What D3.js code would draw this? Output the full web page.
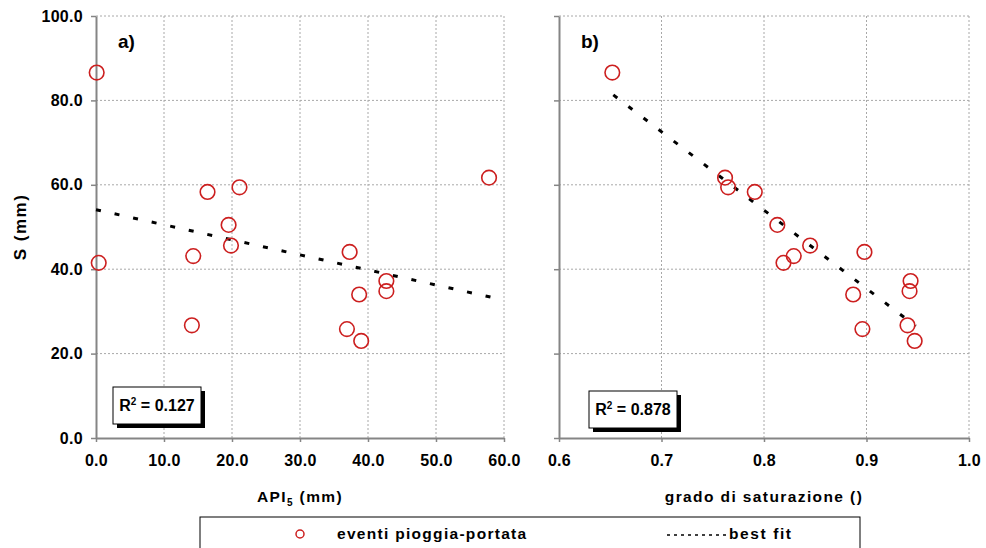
<!doctype html>
<html>
<head>
<script src="https://d3js.org/d3.v7.min.js"></script>
<style>
body { margin: 0; background: #fff; }
text { font-family: Arial, "Liberation Sans", sans-serif; font-weight: bold; fill: #000; }
</style>
</head>
<body>
<script type="text/javascript">
var width = 986;
var height = 548;

// S (mm) per evento, with the two predictors
var S     = [86.6, 61.7, 59.4, 58.3, 50.5, 45.6, 44.1, 43.1, 41.5, 37.2, 34.8, 34.0, 26.7, 25.8, 23.0];
var api5  = [0.1, 57.8, 21.1, 16.4, 19.5, 19.85, 37.3, 14.3, 0.4, 42.7, 42.7, 38.7, 14.1, 36.9, 39.0];
var sat   = [0.652, 0.762, 0.765, 0.791, 0.813, 0.845, 0.898, 0.829, 0.819, 0.943, 0.942, 0.887, 0.940, 0.896, 0.947];

// best fit end points
var fitA = [[0, 54.1], [58.3, 33.3]];
var fitB = [[0.653, 81.3], [0.948, 26.5]];

var yTicks = [0, 20, 40, 60, 80, 100];
var xTicksA = [0, 10, 20, 30, 40, 50, 60];
var xTicksB = [0.6, 0.7, 0.8, 0.9, 1.0];

var svg = d3.select("body").append("svg")
    .attr("width", width)
    .attr("height", height);

var y = d3.scaleLinear().domain([0, 100]).range([438, 16]);
var xA = d3.scaleLinear().domain([0, 60]).range([96, 504]);
var xB = d3.scaleLinear().domain([0.6, 1.0]).range([559, 969]);

function panel(x, xTicks, xs, fit, label, title, r2, showY) {
  var g = svg.append("g");

  // grid
  g.selectAll(".gx").data(xTicks.slice(1)).enter().append("line")
    .attr("x1", function (d) { return x(d); }).attr("x2", function (d) { return x(d); })
    .attr("y1", y(0)).attr("y2", y(100))
    .attr("stroke", "#a8a8a8").attr("stroke-width", 1).attr("stroke-dasharray", "2,2");
  g.selectAll(".gy").data(yTicks.slice(1)).enter().append("line")
    .attr("x1", x.range()[0]).attr("x2", x.range()[1])
    .attr("y1", function (d) { return y(d); }).attr("y2", function (d) { return y(d); })
    .attr("stroke", "#a8a8a8").attr("stroke-width", 1).attr("stroke-dasharray", "2,2");

  // axes
  var ax = g.append("g").attr("transform", "translate(0," + y(0) + ")")
    .call(d3.axisBottom(x).tickValues(xTicks).tickFormat(d3.format(".1f"))
      .tickSize(4).tickSizeOuter(0).tickPadding(13));
  var ay = g.append("g").attr("transform", "translate(" + x.range()[0] + ",0)")
    .call(d3.axisLeft(y).tickValues(yTicks)
      .tickFormat(showY ? d3.format(".1f") : "")
      .tickSize(5).tickSizeOuter(0).tickPadding(8));
  [ax, ay].forEach(function (a) {
    a.select(".domain").attr("stroke", "#858585").attr("stroke-width", 2);
    a.selectAll(".tick line").attr("stroke", "#858585").attr("stroke-width", 1.5);
    a.selectAll("text").attr("font-size", 16).attr("font-family", null)
      .style("letter-spacing", "0.3px").attr("fill", "#000");
  });

  // fit line
  g.append("path")
    .attr("d", d3.line().x(function (d) { return x(d[0]); }).y(function (d) { return y(d[1]); })(fit))
    .attr("fill", "none").attr("stroke", "#000").attr("stroke-width", 3)
    .attr("stroke-dasharray", "5,14");

  // points
  g.selectAll("circle").data(xs).enter().append("circle")
    .attr("cx", function (d) { return x(d); })
    .attr("cy", function (d, i) { return y(S[i]); })
    .attr("r", 7.3)
    .attr("fill", "none").attr("stroke", "#cc1f1f").attr("stroke-width", 1.6);

  // panel label
  g.append("text").attr("x", x.range()[0] + 22).attr("y", 48)
    .attr("font-size", 19).text(label);

  // axis title
  var t = g.append("text").attr("x", (x.range()[0] + x.range()[1]) / 2).attr("y", 502)
    .attr("text-anchor", "middle").attr("font-size", 15.5).style("letter-spacing", "1.4px");
  title(t);

  // R2 box
  var bx = x.range()[0] + (showY ? 17 : 30), by = showY ? 387 : 391;
  g.append("rect").attr("x", bx + 4).attr("y", by + 4).attr("width", 88).attr("height", 37).attr("fill", "#000");
  g.append("rect").attr("x", bx).attr("y", by).attr("width", 88).attr("height", 37)
    .attr("fill", "#fff").attr("stroke", "#000").attr("stroke-width", 1);
  var rt = g.append("text").attr("x", bx + 44).attr("y", by + 24).attr("text-anchor", "middle").attr("font-size", 16);
  rt.append("tspan").text("R");
  rt.append("tspan").attr("font-size", 10).attr("dy", -6).text("2");
  rt.append("tspan").attr("dy", 6).text(" = " + r2);
}

panel(xA, xTicksA, api5, fitA, "a)", function (t) {
  t.append("tspan").text("API");
  t.append("tspan").attr("font-size", 10).attr("dy", 4).text("5");
  t.append("tspan").attr("dy", -4).text(" (mm)");
}, "0.127", true);

panel(xB, xTicksB, sat, fitB, "b)", function (t) {
  t.text("grado di saturazione ()");
}, "0.878", false);

// y title
svg.append("text").attr("transform", "translate(26,227) rotate(-90)")
  .attr("text-anchor", "middle").attr("font-size", 17).style("letter-spacing", "1.5px").text("S (mm)");

// legend
var lg = svg.append("g");
lg.append("rect").attr("x", 200).attr("y", 517).attr("width", 660).attr("height", 60)
  .attr("fill", "#fff").attr("stroke", "#000").attr("stroke-width", 1);
lg.append("circle").attr("cx", 300).attr("cy", 534).attr("r", 4)
  .attr("fill", "none").attr("stroke", "#cc1f1f").attr("stroke-width", 1.5);
lg.append("text").attr("x", 337).attr("y", 539).attr("font-size", 15.5)
  .style("letter-spacing", "1.3px").text("eventi pioggia-portata");
lg.append("line").attr("x1", 667).attr("x2", 727).attr("y1", 535).attr("y2", 535)
  .attr("stroke", "#000").attr("stroke-width", 1.5).attr("stroke-dasharray", "3,4");
lg.append("text").attr("x", 729).attr("y", 539).attr("font-size", 15.5)
  .style("letter-spacing", "1.6px").text("best fit");
</script>
</body>
</html>
